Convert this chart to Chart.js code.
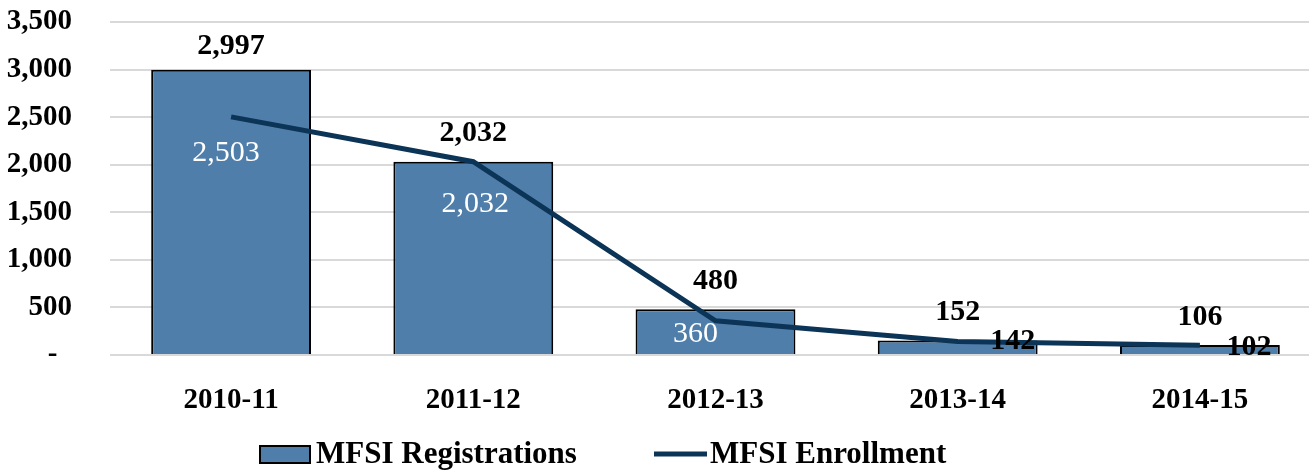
<!DOCTYPE html>
<html>
<head>
<meta charset="utf-8">
<script src="https://cdn.jsdelivr.net/npm/chart.js@4/dist/chart.umd.min.js"></script>
<style>
  html, body { margin: 0; padding: 0; background: #fff; overflow: hidden; }
  #wrap { width: 1330px; height: 473px; }
</style>
</head>
<body>
<div id="wrap"><canvas id="mfsi"></canvas></div>
<script>
const years = ["2010-11", "2011-12", "2012-13", "2013-14", "2014-15"];
const registrations = [2997, 2032, 480, 152, 106];
const enrollment = [2503, 2032, 360, 142, 102];

const BAR_COLOR = "#4f7eab";
const LINE_COLOR = "#0c3457";
const FONT = "'Liberation Serif', 'Times New Roman', serif";

// where each enrollment label sits relative to its point
const enrollLabelOffset = [[-5, 36], [2, 42], [-20, 13], [55, 0], [49, 2]];
const enrollLabelColor = ["#fff", "#fff", "#fff", "#000", "#000"];

const fmt = (v) => v.toLocaleString("en-US");

const labelsPlugin = {
  id: "valueLabels",
  afterDatasetsDraw(chart) {
    const ctx = chart.ctx;
    ctx.save();
    ctx.textAlign = "center";
    ctx.textBaseline = "middle";
    ctx.font = "bold 30px " + FONT;

    // registrations above the bars
    const barMeta = chart.getDatasetMeta(1);
    barMeta.data.forEach((bar, i) => {
      ctx.fillStyle = "#000";
      ctx.fillText(fmt(registrations[i]), bar.x, Math.max(bar.y - 28, 46));
    });

    // enrollment next to the line points
    const lineMeta = chart.getDatasetMeta(0);
    lineMeta.data.forEach((pt, i) => {
      const [dx, dy] = enrollLabelOffset[i];
      ctx.fillStyle = enrollLabelColor[i];
      ctx.font = (i < 3 ? "" : "bold ") + "30px " + FONT;
      ctx.fillText(fmt(enrollment[i]), pt.x + dx, pt.y + dy);
    });
    ctx.restore();
  },
  afterDraw(chart) {
    // legend
    const ctx = chart.ctx;
    const y = 454;
    ctx.save();
    ctx.font = "bold 31px " + FONT;
    ctx.textBaseline = "middle";
    ctx.textAlign = "left";

    ctx.fillStyle = BAR_COLOR;
    ctx.strokeStyle = "#000";
    ctx.lineWidth = 2;
    ctx.fillRect(260, y - 8, 50, 17);
    ctx.strokeRect(260, y - 8, 50, 17);
    ctx.fillStyle = "#000";
    ctx.fillText("MFSI Registrations", 316, y + 1);

    ctx.strokeStyle = LINE_COLOR;
    ctx.lineWidth = 5;
    ctx.beginPath();
    ctx.moveTo(654, y);
    ctx.lineTo(707, y);
    ctx.stroke();
    ctx.fillText("MFSI Enrollment", 710, y + 1);
    ctx.restore();
  },
};

new Chart(document.getElementById("mfsi"), {
  data: {
    labels: years,
    datasets: [
      {
        type: "line",
        label: "MFSI Enrollment",
        data: enrollment,
        borderColor: LINE_COLOR,
        borderWidth: 5,
        pointRadius: 0,
        tension: 0,
        order: 0,
      },
      {
        type: "bar",
        label: "MFSI Registrations",
        data: registrations,
        backgroundColor: BAR_COLOR,
        borderColor: "#000",
        borderWidth: 2,
        barPercentage: 0.66,
        categoryPercentage: 1,
        order: 1,
      },
    ],
  },
  options: {
    responsive: true,
    maintainAspectRatio: false,
    animation: false,
    layout: { padding: { top: 22, right: 9, left: 0, bottom: 0 } },
    plugins: {
      legend: { display: false },
      tooltip: { enabled: false },
    },
    scales: {
      x: {
        grid: { display: false, drawTicks: false },
        border: { display: false },
        ticks: {
          color: "#000",
          padding: 28,
          font: { family: FONT, size: 29, weight: "bold" },
        },
        afterFit(scale) {
          scale.height = 118;
          scale.paddingLeft = 0;
          scale.paddingRight = 0;
        },
      },
      y: {
        min: 0,
        max: 3500,
        grid: { color: "#d9d9d9", lineWidth: 2, drawTicks: false },
        border: { display: false },
        ticks: {
          stepSize: 500,
          color: "#000",
          padding: 38,
          font: { family: FONT, size: 29, weight: "bold" },
          // accounting style: zero shown as a dash
          callback: (v) => (v === 0 ? "-  " : fmt(v)),
        },
        afterFit(scale) {
          // tick padding is horizontal only here
          scale.width = 110;
          scale.paddingTop = 0;
          scale.paddingBottom = 0;
        },
      },
    },
  },
  plugins: [labelsPlugin],
});
</script>
</body>
</html>
